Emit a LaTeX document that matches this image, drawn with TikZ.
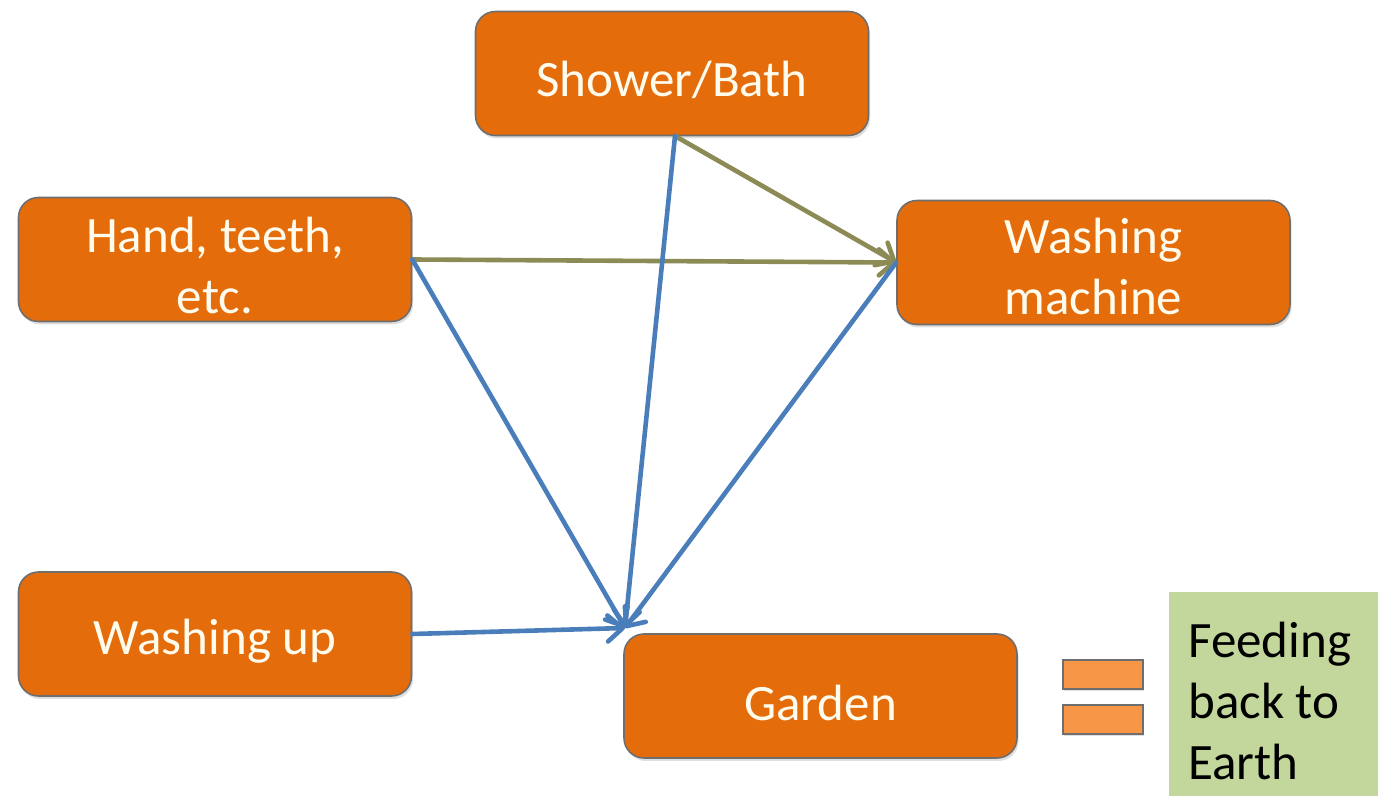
\documentclass[tikz,border=0pt]{standalone}
\usepackage{fontspec}
\setmainfont{Carlito}
\usetikzlibrary{arrows.meta,shadows}
\definecolor{boxorange}{HTML}{E46C0A}
\definecolor{barorange}{HTML}{F79646}
\definecolor{boxgreen}{HTML}{C3D69B}
\definecolor{flowblue}{HTML}{4A7EBB}
\definecolor{flowolive}{HTML}{8C8A55}
\definecolor{edgegray}{HTML}{6E6E6E}
\definecolor{textcream}{HTML}{FFFCEE}
\tikzset{
  px/.style={x=0.5pt,y=-0.5pt},
  srcbox/.style={draw=edgegray, line width=0.8pt, fill=boxorange, rounded corners=10pt,
    minimum width=196.5pt, minimum height=62pt, inner sep=0pt,
    drop shadow={shadow xshift=0.8pt, shadow yshift=-1.5pt, opacity=0.25}},
  boxtext/.style={text=textcream, align=center, inner sep=0pt,
    font=\fontsize{25.5}{30.5}\selectfont},
  eqbar/.style={draw=edgegray, line width=0.8pt, fill=barorange, minimum width=40pt,
    minimum height=14.5pt, inner sep=0pt,
    drop shadow={shadow xshift=0.5pt, shadow yshift=-1pt, opacity=0.25}},
  resultbox/.style={fill=boxgreen, minimum width=104.5pt, minimum height=102pt, inner sep=0pt},
  resulttext/.style={text=black, align=left, inner sep=0pt, font=\fontsize{25.5}{30.5}\selectfont},
  blueflow/.style={draw=flowblue, line width=2.3pt, line cap=round, -{Straight Barb[length=7.5pt,width=13pt,round]}},
  oliveflow/.style={draw=flowolive, line width=2.3pt, line cap=round, -{Straight Barb[length=7.5pt,width=13pt,round]}}
}
\begin{document}
\begin{tikzpicture}[px]
\useasboundingbox (0,0) rectangle (1378,796);
\node[srcbox] (shower) at (672,73.5) {};
\node[srcbox] (hand) at (215,259.5) {};
\node[srcbox] (wm) at (1093.5,262.5) {};
\node[srcbox] (wup) at (215,634) {};
\node[srcbox] (garden) at (820.5,696) {};
\node[boxtext] (showerlbl) at (672,80) {Shower/Bath};
\node[boxtext] (handlbl) at (215,265) {Hand, teeth,\\etc.};
\node[boxtext] (wmlbl) at (1093.5,266.5) {Washing\\machine};
\node[boxtext] (wuplbl) at (215,641) {Washing up};
\node[boxtext] (gardenlbl) at (820.5,703) {Garden};
\node[eqbar] (eqtop) at (1103,674.5) {};
\node[eqbar] (eqbot) at (1103,719.5) {};
\node[resultbox] (earth) at (1273.5,694) {};
\node[resulttext, anchor=west] (earthlbl) at (1188,700.5) {Feeding\\back to\\Earth};
\coordinate (sink) at (625,628);
\coordinate (showerout) at (675,136);
\draw[oliveflow] (showerout) -- (wm.west);
\draw[oliveflow] (hand.east) -- (wm.west);
\draw[blueflow] (showerout) -- (sink);
\draw[blueflow] (hand.east) -- (sink);
\draw[blueflow] (wm.west) -- (sink);
\draw[blueflow] (wup.east) -- (sink);
\end{tikzpicture}
\end{document}
